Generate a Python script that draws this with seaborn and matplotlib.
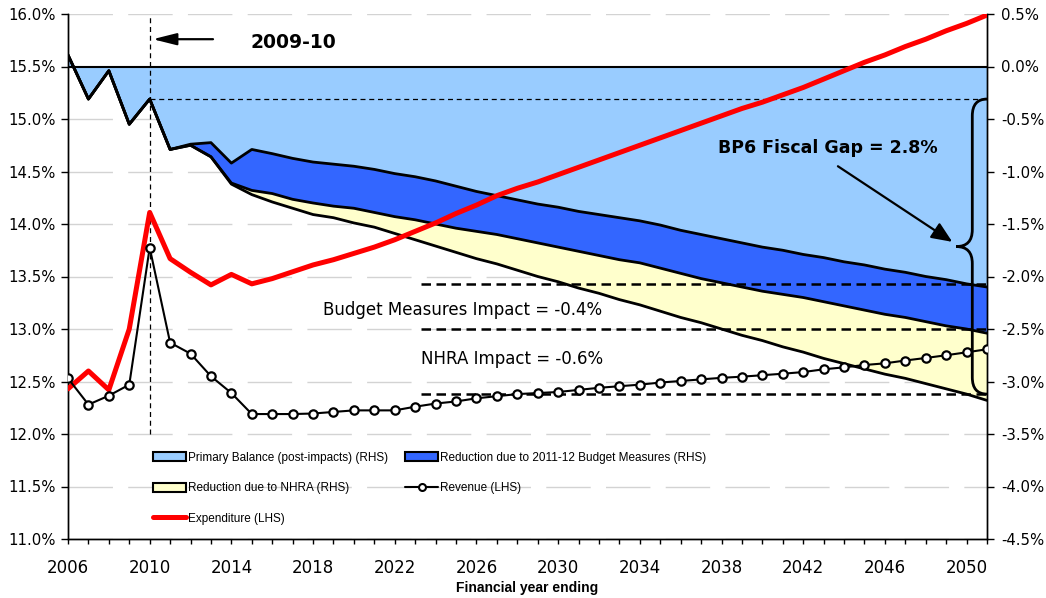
import matplotlib
matplotlib.use("Agg")
import matplotlib.pyplot as plt
import seaborn as sns
import numpy as np
import pandas as pd
from matplotlib.patches import Patch, PathPatch
from matplotlib.lines import Line2D
from matplotlib.path import Path

years = list(range(2006, 2052))

# LHS (% of GDP)
revenue = [12.53, 12.28, 12.365, 12.47, 13.775, 12.87, 12.765, 12.55, 12.39, 12.19,
           12.19, 12.19, 12.195, 12.21, 12.225, 12.225, 12.225, 12.26, 12.29, 12.31,
           12.34, 12.36, 12.38, 12.39, 12.40, 12.42, 12.44, 12.455, 12.47, 12.49,
           12.505, 12.52, 12.535, 12.546, 12.56, 12.574, 12.59, 12.616, 12.635, 12.657,
           12.673, 12.70, 12.724, 12.75, 12.778, 12.807]
expenditure = [12.43, 12.60, 12.42, 13.00, 14.11, 13.67, 13.54, 13.42, 13.52, 13.43,
               13.48, 13.545, 13.61, 13.66, 13.72, 13.78, 13.85, 13.93, 14.01, 14.10,
               14.18, 14.27, 14.34, 14.40, 14.47, 14.54, 14.61, 14.68, 14.75, 14.82,
               14.89, 14.96, 15.03, 15.10, 15.16, 15.23, 15.30, 15.38, 15.46, 15.54,
               15.61, 15.69, 15.76, 15.84, 15.91, 15.99]

# RHS (% of GDP) - lower edges of the three shaded bands
primary_balance = [0.11, -0.31, -0.04, -0.55, -0.31, -0.79, -0.74, -0.725, -0.92, -0.79,
                   -0.83, -0.875, -0.91, -0.93, -0.95, -0.98, -1.02, -1.05, -1.09, -1.14,
                   -1.19, -1.23, -1.27, -1.31, -1.34, -1.38, -1.41, -1.44, -1.47, -1.51,
                   -1.56, -1.60, -1.64, -1.68, -1.72, -1.75, -1.79, -1.82, -1.86, -1.89,
                   -1.93, -1.96, -2.00, -2.03, -2.07, -2.10]
after_budget = [0.11, -0.31, -0.04, -0.55, -0.31, -0.79, -0.75, -0.86, -1.11, -1.18,
                -1.21, -1.265, -1.30, -1.33, -1.35, -1.39, -1.43, -1.46, -1.50, -1.54,
                -1.57, -1.60, -1.64, -1.68, -1.72, -1.76, -1.80, -1.84, -1.87, -1.92,
                -1.97, -2.02, -2.06, -2.10, -2.14, -2.17, -2.20, -2.24, -2.28, -2.32,
                -2.36, -2.39, -2.43, -2.47, -2.50, -2.54]
after_nhra = [0.11, -0.31, -0.04, -0.55, -0.31, -0.79, -0.75, -0.86, -1.12, -1.22,
              -1.29, -1.35, -1.41, -1.44, -1.49, -1.53, -1.59, -1.65, -1.71, -1.77,
              -1.83, -1.88, -1.94, -2.00, -2.05, -2.11, -2.16, -2.22, -2.27, -2.33,
              -2.39, -2.44, -2.50, -2.56, -2.61, -2.67, -2.72, -2.78, -2.83, -2.88,
              -2.93, -2.97, -3.02, -3.07, -3.12, -3.18]

df = pd.DataFrame({'year': years, 'revenue': revenue, 'expenditure': expenditure,
                   'pb': primary_balance, 'bm': after_budget, 'nhra': after_nhra})

sns.set_style("white")
plt.rcParams['font.family'] = ['DejaVu Sans']
plt.rcParams['text.color'] = 'black'
plt.rcParams['axes.labelcolor'] = 'black'
plt.rcParams['xtick.color'] = 'black'
plt.rcParams['ytick.color'] = 'black'
narrow = ['Liberation Sans', 'DejaVu Sans']

light_blue = '#99CCFF'
dark_blue = '#3366FF'
pale_yellow = '#FFFFCC'

fig = plt.figure(figsize=(10.46, 5.98), dpi=100)
ax = fig.add_axes([68 / 1046, 1 - 539 / 598, (987 - 68) / 1046, (539 - 14) / 598])
ax2 = ax.twinx()
ax.set_zorder(ax2.get_zorder() + 1)
ax.patch.set_visible(False)

# shaded bands (RHS)
ax2.set_axisbelow(True)
ax2.yaxis.grid(True, color='#D3D3D3', lw=1.0, dashes=(32, 11))
ax2.fill_between(df['year'], 0, df['pb'], color=light_blue, lw=0, zorder=1)
ax2.fill_between(df['year'], df['pb'], df['bm'], color=dark_blue, lw=0, zorder=1)
ax2.fill_between(df['year'], df['bm'], df['nhra'], color=pale_yellow, lw=0, zorder=1)
for col in ['nhra', 'bm', 'pb']:
    sns.lineplot(data=df, x='year', y=col, ax=ax2, color='black', lw=2.0, zorder=2)
ax2.axhline(0, color='black', lw=1.5, zorder=2)

# 2050 levels and fiscal gap
lvl_pb, lvl_bm, lvl_nhra = primary_balance[-2], after_budget[-2], after_nhra[-2]
for v in (lvl_pb, lvl_bm, lvl_nhra):
    ax2.plot([2023.3, 2051], [v, v], color='black', lw=1.8, dashes=(3.8, 2.2), zorder=3)
gap_top = primary_balance[years.index(2010)]
ax2.plot([2010, 2051], [gap_top, gap_top], color='black', lw=0.9, dashes=(4, 3), zorder=3)

mid = (gap_top + lvl_nhra) / 2
xr, xv, xt, d = 2051, 2050.28, 2049.5, 0.16
verts = [(xr, gap_top), (xv, gap_top), (xv, gap_top - d), (xv, mid + d), (xv, mid), (xt, mid),
         (xv, mid), (xv, mid - d), (xv, lvl_nhra + d), (xv, lvl_nhra), (xr, lvl_nhra)]
codes = [Path.MOVETO, Path.CURVE3, Path.CURVE3, Path.LINETO, Path.CURVE3, Path.CURVE3,
         Path.CURVE3, Path.CURVE3, Path.LINETO, Path.CURVE3, Path.CURVE3]
ax2.add_patch(PathPatch(Path(verts, codes), fill=False, lw=2.0, ec='black', zorder=4, clip_on=False))

ax2.text(2043.2, -0.78, 'BP6 Fiscal Gap = 2.8%', fontsize=12.5, fontweight='bold',
         ha='center', va='center', zorder=5)
ax2.annotate('', xy=(2049.3, -1.67), xytext=(2043.7, -0.95),
             arrowprops=dict(arrowstyle='-|>,head_length=0.7,head_width=0.3', color='black',
                             lw=1.6, shrinkA=0, shrinkB=0, mutation_scale=18), zorder=5)
ax2.text(2018.5, -2.32, 'Budget Measures Impact = -0.4%', fontsize=12, ha='left', va='center')
ax2.text(2023.3, -2.79, 'NHRA Impact = -0.6%', fontsize=12, ha='left', va='center')

# lines (LHS)
sns.lineplot(data=df, x='year', y='expenditure', ax=ax, color='red', lw=3.6, zorder=4)
sns.lineplot(data=df, x='year', y='revenue', ax=ax, color='black', lw=1.5, marker='o', ms=6,
             mfc='white', mec='black', mew=1.6, zorder=5)
ax.plot([2010, 2010], [12.0, 16.0], color='black', lw=0.9, dashes=(4, 3), zorder=3)
ax.annotate('', xy=(2010.15, 15.76), xytext=(2013.1, 15.76),
            arrowprops=dict(arrowstyle='-|>,head_length=0.8,head_width=0.2', color='black',
                            lw=1.6, shrinkA=0, shrinkB=0, mutation_scale=18))
ax.text(2014.96, 15.73, '2009-10', fontsize=13.5, fontweight='bold', ha='left', va='center')

# axes
ax.set_xlim(2006, 2051)
ax.set_ylim(11, 16)
ax2.set_ylim(-4.5, 0.5)
ax.set_xticks(years)
ax.set_xticklabels([str(y) if (y - 2006) % 4 == 0 else '' for y in years])
lticks = np.arange(11, 16.01, 0.5)
ax.set_yticks(lticks)
ax.set_yticklabels([f'{v:.1f}%' for v in lticks])
rticks = np.arange(-4.5, 0.51, 0.5)
ax2.set_yticks(rticks)
ax2.set_yticklabels([f'{v:.1f}%' for v in rticks])
ax.tick_params(axis='x', bottom=True, direction='out', length=3.5, width=1, labelsize=12, pad=11)
ax.tick_params(axis='y', left=True, direction='out', length=5, width=1, labelsize=10.7, pad=4)
ax2.tick_params(axis='y', right=True, direction='out', length=5, width=1, labelsize=10.7, pad=5)
ax.set_xlabel('Financial year ending', fontsize=10, fontweight='bold', family=narrow, labelpad=3)
ax.set_ylabel('')
ax2.set_ylabel('')
for a in (ax, ax2):
    a.spines['top'].set_visible(False)
    for s in ('left', 'right', 'bottom'):
        a.spines[s].set_color('black')
        a.spines[s].set_linewidth(1.0)

# legend
h_pb = Patch(fc=light_blue, ec='black', lw=1.5, label='Primary Balance (post-impacts) (RHS)')
h_bm = Patch(fc=dark_blue, ec='black', lw=1.5, label='Reduction due to 2011-12 Budget Measures (RHS)')
h_nh = Patch(fc=pale_yellow, ec='black', lw=1.5, label='Reduction due to NHRA (RHS)')
h_rev = Line2D([], [], color='black', lw=1.5, marker='o', ms=5, mfc='white', mew=1.5,
               label='Revenue (LHS)')
h_exp = Line2D([], [], color='red', lw=3.6, solid_capstyle='round', label='Expenditure (LHS)')
leg_kw = dict(frameon=False, prop={'family': narrow, 'size': 8.5}, handlelength=2.8,
              handleheight=0.8, handletextpad=0.2, labelspacing=1.55, borderpad=0,
              borderaxespad=0, loc='upper left', bbox_transform=fig.transFigure)
leg1 = ax.legend(handles=[h_pb, h_nh, h_exp], bbox_to_anchor=(153 / 1046, 1 - 452 / 598), **leg_kw)
ax.add_artist(leg1)
ax.legend(handles=[h_bm, h_rev], bbox_to_anchor=(405 / 1046, 1 - 452 / 598), **leg_kw)

fig.savefig('out.png', dpi=100)
